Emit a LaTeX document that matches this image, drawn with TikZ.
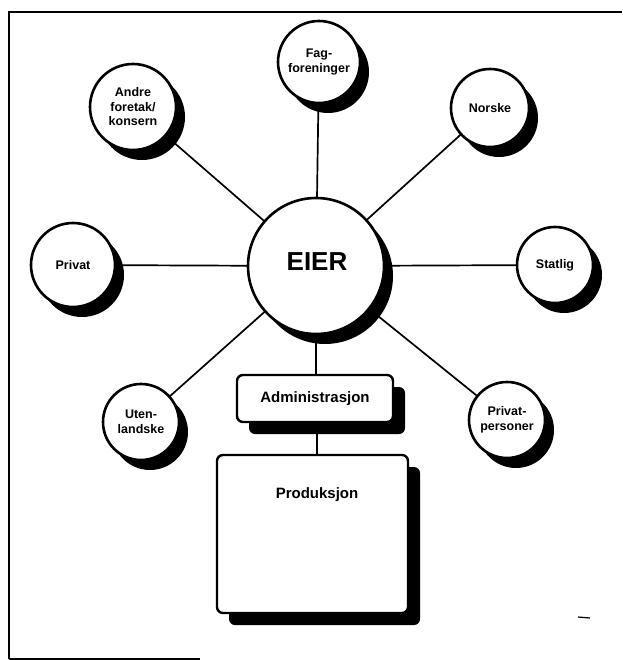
\documentclass[tikz,border=0pt]{standalone}
\usepackage{fontspec}
\setmainfont{Liberation Sans}
\usetikzlibrary{shadows,backgrounds}
\begin{document}
\begin{tikzpicture}[x=1pt,y=-1pt,
  ball/.style={circle,draw=black,fill=white,line width=2.6pt,inner sep=0pt,align=center,
    font=\fontsize{12.5}{14.5}\selectfont\bfseries,
    drop shadow={shadow xshift=9pt,shadow yshift=-10pt,fill=black,opacity=1}},
  boxnode/.style={rectangle,rounded corners=6pt,draw=black,fill=white,line width=2.4pt,inner sep=0pt,
    font=\fontsize{15}{17}\selectfont\bfseries,
    drop shadow={shadow xshift=12pt,shadow yshift=-12pt,fill=black,opacity=1}},
  conn/.style={line width=1.7pt},
  frame/.style={line width=2pt}]
\useasboundingbox (0,0) rectangle (622,660);
\draw[frame] (9,659) -- (9,12) -- (622,12);
\draw[line width=1.2pt] (9,659) -- (200,659);
% nodes
\node[ball,minimum size=136pt] (eier) at (316,266) {};
\node[font=\fontsize{26}{28}\selectfont\bfseries] (eiertext) at (317,262) {EIER};
\node[ball,minimum size=82pt] (fag) at (319,62) {Fag-\\foreninger};
\node[ball,minimum size=86pt] (andre) at (133,107) {Andre\\foretak/\\konsern};
\node[ball,minimum size=78pt] (norske) at (490,108) {Norske};
\node[ball,minimum size=84pt] (privat) at (73,265) {Privat};
\node[ball,minimum size=76pt] (statlig) at (555,265) {Statlig};
\node[ball,minimum size=76pt] (uten) at (141,422) {Uten-\\landske};
\node[ball,minimum size=76pt] (privpers) at (507,420) {Privat-\\personer};
\node[boxnode,minimum width=156pt,minimum height=47pt] (admin) at (315,398.5) {Administrasjon};
\node[boxnode,minimum width=191pt,minimum height=158pt] (prod) at (312.5,534) {};
\node[font=\fontsize{15}{17}\selectfont\bfseries,anchor=base] (prodlabel) at (317,498) {Produksjon};
% connectors
\begin{pgfonlayer}{background}
\draw[conn] (eier.center) -- (fag.center);
\draw[conn] (eier.center) -- (andre.center);
\draw[conn] (eier.center) -- (norske.center);
\draw[conn] (eier.center) -- (privat.center);
\draw[conn] (eier.center) -- (statlig.center);
\draw[conn] (eier.center) -- (uten.center);
\draw[conn] (eier.center) -- (privpers.center);
\draw[conn] (eier.center) -- (eier.center |- admin.north);
\draw[conn] ([xshift=2pt]admin.south) -- ([xshift=2pt]admin.south |- prod.north);
\end{pgfonlayer}
% small mark
\coordinate (m1) at (578,617);
\coordinate (m2) at (590,618);
\draw[line width=1.2pt] (m1) -- (m2);
\end{tikzpicture}
\end{document}
